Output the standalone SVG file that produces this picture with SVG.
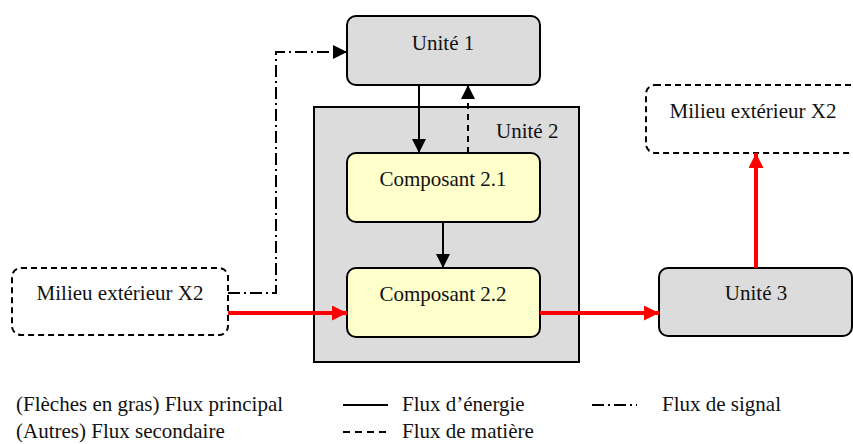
<svg xmlns="http://www.w3.org/2000/svg" width="853" height="444" viewBox="0 0 853 444">
<style>
.gray{fill:#dcdcdc;stroke:#000;stroke-width:2}
.yel{fill:#ffffcc;stroke:#000;stroke-width:2}
.ext{fill:#fff;stroke:#000;stroke-width:2;stroke-dasharray:6 4}
.en{stroke:#000;stroke-width:2;fill:none}
.mat{stroke:#000;stroke-width:2;fill:none;stroke-dasharray:6 5}
.sig{stroke:#000;stroke-width:2;fill:none;stroke-dasharray:12 4 2 4}
.main{stroke:#ff0000;stroke-width:4;fill:none}
</style>
<defs>
<marker id="ab" viewBox="0 0 14 14" refX="14" refY="7" markerWidth="14" markerHeight="14" markerUnits="userSpaceOnUse" orient="auto"><path d="M0,0L14,7L0,14z" fill="#000"/></marker>
<marker id="ar" viewBox="0 0 14 14" refX="14" refY="7" markerWidth="15" markerHeight="15" markerUnits="userSpaceOnUse" orient="auto"><path d="M0,0L14,7L0,14z" fill="#ff0000"/></marker>
</defs>
<g id="unite2"><rect x="314" y="107" width="265" height="255" fill="#dcdcdc" stroke="#000" stroke-width="2"/><text x="496" y="138" font-family="Liberation Serif, serif" font-size="21" fill="#111">Unité 2</text></g>
<g id="unite1"><rect class="gray" x="347" y="16" width="193" height="69" rx="9"/><text x="443" y="50" text-anchor="middle" font-family="Liberation Serif, serif" font-size="21" fill="#111">Unité 1</text></g>
<g id="comp21"><rect class="yel" x="347" y="153" width="193" height="69" rx="9"/><text x="443" y="186" text-anchor="middle" font-family="Liberation Serif, serif" font-size="21" fill="#111">Composant 2.1</text></g>
<g id="comp22"><rect class="yel" x="347" y="268" width="193" height="69" rx="9"/><text x="443" y="301" text-anchor="middle" font-family="Liberation Serif, serif" font-size="21" fill="#111">Composant 2.2</text></g>
<g id="unite3"><rect class="gray" x="659" y="268" width="193" height="68" rx="9"/><text x="756" y="300" text-anchor="middle" font-family="Liberation Serif, serif" font-size="21" fill="#111">Unité 3</text></g>
<g id="milieuG"><rect class="ext" x="12" y="268" width="216" height="67" rx="9"/><text x="120" y="300" text-anchor="middle" font-family="Liberation Serif, serif" font-size="21" fill="#111">Milieu extérieur X2</text></g>
<g id="milieuD"><rect class="ext" x="646" y="85" width="216" height="68" rx="9"/><text x="753" y="118" text-anchor="middle" font-family="Liberation Serif, serif" font-size="21" fill="#111">Milieu extérieur X2</text></g>
<g id="connectors">
<path class="en" d="M419,85V153" marker-end="url(#ab)"/>
<path class="mat" d="M468,153V85" marker-end="url(#ab)"/>
<path class="en" d="M443,222V268" marker-end="url(#ab)"/>
<path class="sig" d="M228,293H276V52H347" marker-end="url(#ab)"/>
<path class="main" d="M228,313H347" marker-end="url(#ar)"/>
<path class="main" d="M540,313H659" marker-end="url(#ar)"/>
<path class="main" d="M756,268V153" marker-end="url(#ar)"/>
</g>
<g id="legend">
<text x="16" y="411" font-family="Liberation Serif, serif" font-size="21" fill="#111">(Flèches en gras) Flux principal</text>
<text x="16" y="438" font-family="Liberation Serif, serif" font-size="21" fill="#111">(Autres) Flux secondaire</text>
<path class="en" d="M343,405H388"/>
<text x="402" y="411" font-family="Liberation Serif, serif" font-size="21" fill="#111">Flux d&#8217;énergie</text>
<path class="mat" d="M343,432H388" style="stroke-dasharray:7 5"/>
<text x="402" y="438" font-family="Liberation Serif, serif" font-size="21" fill="#111">Flux de matière</text>
<path class="sig" d="M592,405H637"/>
<text x="662" y="411" font-family="Liberation Serif, serif" font-size="21" fill="#111">Flux de signal</text>
</g>
</svg>
